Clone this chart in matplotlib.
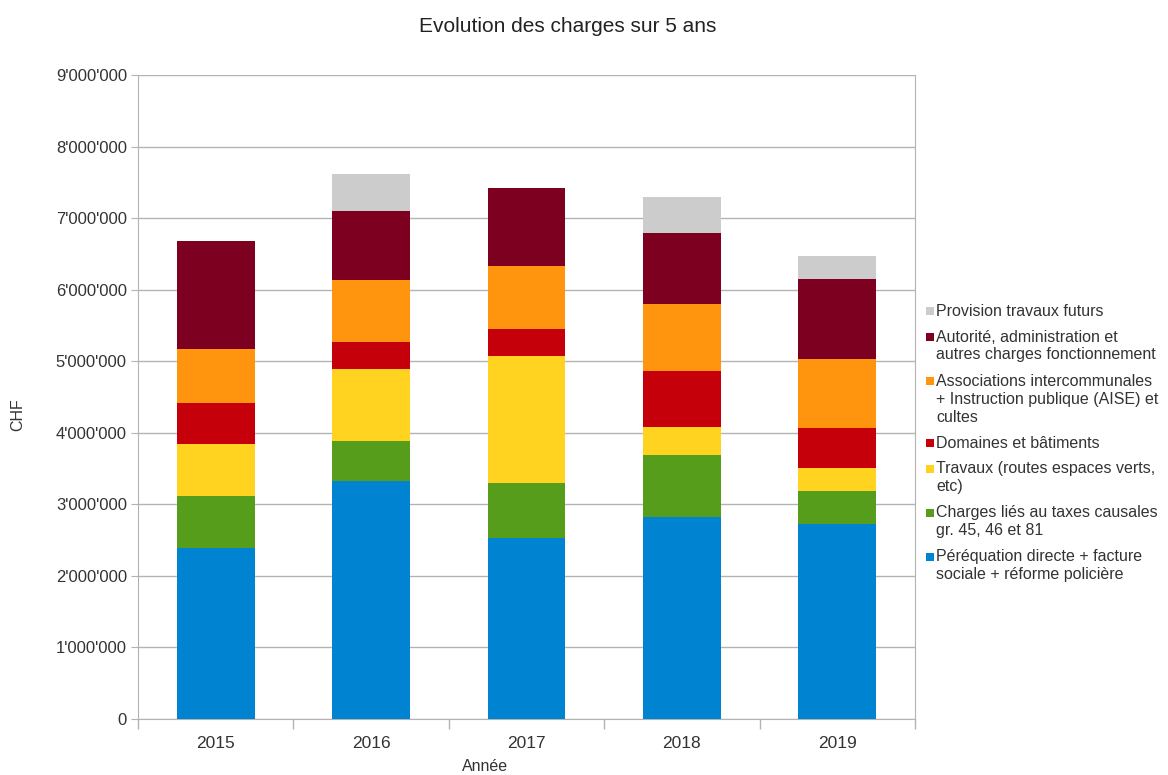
import matplotlib
matplotlib.use("Agg")
import matplotlib.pyplot as plt
from matplotlib.patches import Rectangle
from matplotlib.ticker import FuncFormatter, FixedLocator
import numpy as np

plt.rcParams['font.family'] = ['Liberation Sans', 'DejaVu Sans']

years = ["2015", "2016", "2017", "2018", "2019"]

perequation = [2.39e6, 3.33e6, 2.53e6, 2.82e6, 2.73e6]
charges_taxes = [0.73e6, 0.56e6, 0.77e6, 0.87e6, 0.46e6]
travaux = [0.72e6, 1.00e6, 1.77e6, 0.39e6, 0.32e6]
domaines = [0.58e6, 0.38e6, 0.38e6, 0.78e6, 0.56e6]
associations = [0.75e6, 0.86e6, 0.88e6, 0.94e6, 0.96e6]
autorite = [1.51e6, 0.97e6, 1.09e6, 0.99e6, 1.12e6]
provision = [0.0, 0.52e6, 0.0, 0.51e6, 0.32e6]

series_labels = [
    "Péréquation directe + facture\nsociale + réforme policière",
    "Charges liés au taxes causales\ngr. 45, 46 et 81",
    "Travaux (routes espaces verts,\netc)",
    "Domaines et bâtiments",
    "Associations intercommunales\n+ Instruction publique (AISE) et\ncultes",
    "Autorité, administration et\nautres charges fonctionnement",
    "Provision travaux futurs",
]
series = [perequation, charges_taxes, travaux, domaines, associations, autorite, provision]
colors = ["#0084d1", "#579d1c", "#ffd320", "#c5000b", "#ff950e", "#7e0021", "#cccccc"]

W, H = 1168, 775
fig = plt.figure(figsize=(W/100, H/100), dpi=100)
ax = fig.add_axes([138/W, 56/H, (915-138)/W, (719-75)/H])

x = np.arange(len(years))
bottom = np.zeros(len(years))
for vals, col, lab in zip(series, colors, series_labels):
    ax.bar(x, vals, width=0.5, bottom=bottom, color=col, label=lab, zorder=3)
    bottom += np.array(vals)

ax.set_xlim(-0.5, len(years) - 0.5)
ax.set_ylim(0, 9e6)
ax.set_yticks(np.arange(0, 9.01e6, 1e6))
ax.yaxis.set_major_formatter(FuncFormatter(lambda v, p: "0" if v == 0 else f"{int(v):,}".replace(",", "'")))
ax.set_xticks(x)
ax.set_xticklabels(years)
ax.xaxis.set_minor_locator(FixedLocator(np.arange(-0.5, len(years), 1.0)))
ax.tick_params(axis='x', which='major', length=0, labelsize=12.5, colors='#333333', pad=12)
ax.tick_params(axis='x', which='minor', length=7, color='#b3b3b3', width=1)
ax.tick_params(axis='y', length=5, color='#b3b3b3', labelsize=12, labelcolor='#333333', pad=3)

ax.grid(axis='y', color='#b3b3b3', linewidth=1, zorder=0)
for s in ['left', 'right', 'bottom']:
    ax.spines[s].set_color('#b3b3b3')
ax.spines['top'].set_visible(False)

ax.set_xlabel("Année", fontsize=11.5, color='#333333')
ax.xaxis.set_label_coords(0.447, -0.062)
fig.text(18/W, 1 - 415/H, "CHF", rotation=90, fontsize=11.5, color='#333333', ha='center', va='center')
fig.text(568/W, 1 - 26/H, "Evolution des charges sur 5 ans", fontsize=15, color='#222222', ha='center', va='center')

# legend (reverse order, marker aligned with first line of each entry)
y = 311.0
line_h = 18.0
gap = 26.0
sq = 7.5
for lab, col in zip(series_labels[::-1], colors[::-1]):
    lines = lab.split("\n")
    fig.patches.append(Rectangle((926/W, 1 - (y + sq/2)/H), sq/W, sq/H,
                                 transform=fig.transFigure, facecolor=col, edgecolor='none'))
    for i, ln in enumerate(lines):
        fig.text(936/W, 1 - (y + i*line_h)/H, ln, fontsize=11.5, color='#333333', ha='left', va='center')
    y += (len(lines) - 1) * line_h + gap

fig.savefig("out.png", dpi=100)
